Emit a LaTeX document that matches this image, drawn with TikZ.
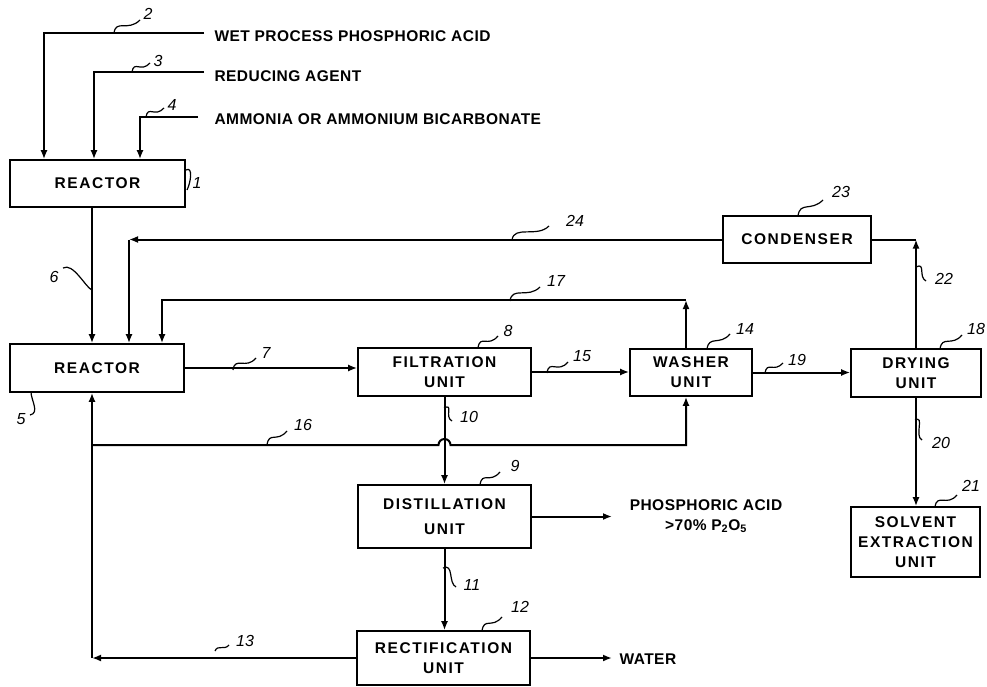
\documentclass[tikz,border=0pt]{standalone}
\usepackage{fontspec}
\setmainfont{Liberation Sans}
\newfontfamily\boxfont[LetterSpace=10.0]{Liberation Sans}
\newfontfamily\feedfont[LetterSpace=3.0]{Liberation Sans}
\usetikzlibrary{arrows.meta}

\begin{document}
\begin{tikzpicture}[x=1pt, y=-1pt, every node/.style={font=\boxfont\bfseries\fontsize{15.5}{20}\selectfont}]
  \tikzstyle{unit}=[draw,line width=1.6pt,align=center,inner sep=0pt]
  \tikzstyle{feed}=[font=\feedfont\bfseries\fontsize{15.5}{20}\selectfont]
  \tikzstyle{pipe}=[line width=2pt]
  \tikzstyle{arr}=[pipe,-{Latex[length=9pt,width=7pt]}]
  \tikzstyle{lead}=[line width=1.2pt]
  \tikzstyle{num}=[font=\normalfont\itshape\fontsize{16}{16}\selectfont,inner sep=0pt]
  \useasboundingbox (0,0) rectangle (987,687);
  % units
  \node[unit,minimum width=175,minimum height=47] (react1) at (97.5,183.5) {REACTOR};
  \node[unit,minimum width=174,minimum height=48] (react5) at (97,368) {REACTOR};
  \node[unit,minimum width=173,minimum height=48] (filt) at (444.5,372) {FILTRATION\\UNIT};
  \node[unit,minimum width=122,minimum height=47] (wash) at (691,372.5) {WASHER\\UNIT};
  \node[unit,minimum width=130,minimum height=48] (dry) at (916,373) {DRYING\\UNIT};
  \node[unit,minimum width=148,minimum height=47] (cond) at (797,239.5) {CONDENSER};
  \node[unit,minimum width=173,minimum height=63] (dist) at (444.5,516.5) {DISTILLATION\\[5pt]UNIT};
  \node[unit,minimum width=173,minimum height=54] (rectif) at (443.5,658) {RECTIFICATION\\UNIT};
  \node[unit,minimum width=129,minimum height=70] (solv) at (915.5,542) {SOLVENT\\EXTRACTION\\UNIT};
  % feeds and products
  \node[feed,anchor=west] (acidin) at (211,36) {WET PROCESS PHOSPHORIC ACID};
  \node[feed,anchor=west] (redin) at (211,76) {REDUCING AGENT};
  \node[feed,anchor=west] (ammin) at (211,119) {AMMONIA OR AMMONIUM BICARBONATE};
  \node[feed,align=center] (acidout) at (706,516) {PHOSPHORIC ACID\\>70\% P\textsubscript{2}O\textsubscript{5}};
  \node[feed,anchor=west] (water) at (616,659) {WATER};
  \coordinate (in2) at (204,33);
  \coordinate (in3) at (204,72);
  \coordinate (in4) at (198,117);
  \coordinate (c2) at (44,0);
  \coordinate (c3) at (94,0);
  \coordinate (c4) at (140,0);
  \coordinate (c6) at (92,0);
  \coordinate (c24) at (129,0);
  \coordinate (k17) at (162,300);
  \coordinate (c14) at (686,0);
  \coordinate (k13) at (92,658);
  \coordinate (j16) at (92,445);
  \coordinate (pout) at (612,0);
  % streams
  \draw[arr] (in2) -| (react1.north -| c2);
  \draw[arr] (in3) -| (react1.north -| c3);
  \draw[arr] (in4) -| (react1.north -| c4);
  \draw[arr] (react1.south -| c6) -- (react5.north -| c6);
  \draw[arr] (react5.east) -- (react5.east -| filt.west);
  \draw[arr] (filt.east) -- (filt.east -| wash.west);
  \draw[arr] (wash.east) -- (wash.east -| dry.west);
  \draw[arr] (filt.south) -- (dist.north);
  \draw[arr] (dist.south) -- (rectif.north -| dist.south);
  \draw[arr] (dist.east) -- (dist.east -| pout);
  \draw[arr] (rectif.east) -- (rectif.east -| pout);
  \draw[arr] (dry.south) -- (solv.north -| dry.south);
  \draw[arr] (dry.north) -- (dry.north |- cond.east);
  \draw[pipe] (dry.north |- cond.east) -- (cond.east);
  \draw[arr] (cond.west) -- (cond.west -| c24);
  \draw[arr] (cond.west -| c24) -- (react5.north -| c24);
  \draw[arr] (wash.north -| c14) -- (k17 -| c14);
  \draw[arr] (k17 -| c14) -- (k17) -- (react5.north -| k17);
  \draw[arr] (rectif.west) -- (k13);
  \draw[arr] (k13) -- (react5.south -| k13);
  \draw[arr] (j16) -- ([xshift=-6pt]j16 -| filt.south) arc[start angle=180,end angle=360,radius=6] -- (j16 -| c14) -- (wash.south -| c14);
  % reference numerals
  \draw[lead] (186,170) .. controls +(7,-4) and +(4,-8) .. (187,190);
  \node[num] (n1) at (197,183) {1};
  \draw[lead] (114,33) .. controls +(2,-14) and +(-12,12) .. (140,20);
  \node[num] (n2) at (148,14) {2};
  \draw[lead] (132,72) .. controls +(2,-12) and +(-9,10) .. (150,63);
  \node[num] (n3) at (158,61) {3};
  \draw[lead] (146,117) .. controls +(2,-12) and +(-9,10) .. (164,108);
  \node[num] (n4) at (172,105) {4};
  \draw[lead] (31,392) .. controls +(0,8) and +(10,-2) .. (30,415);
  \node[num] (n5) at (21,419) {5};
  \draw[lead] (63,268) .. controls +(10,-6) and +(-6,-2) .. (92,290);
  \node[num] (n6) at (54,277) {6};
  \draw[lead] (233,370) .. controls +(2,-14) and +(-10,12) .. (256,358);
  \node[num] (n7) at (266,353) {7};
  \draw[lead] (478,348) .. controls +(2,-14) and +(-10,12) .. (498,336);
  \node[num] (n8) at (508,331) {8};
  \draw[lead] (480,485) .. controls +(2,-14) and +(-10,12) .. (500,472);
  \node[num] (n9) at (515,466) {9};
  \draw[lead] (444,408) .. controls +(10,-5) and +(-8,-4) .. (452,421);
  \node[num] (n10) at (469,417) {10};
  \draw[lead] (443,568) .. controls +(11,-5) and +(-8,-4) .. (456,587);
  \node[num] (n11) at (472,585) {11};
  \draw[lead] (482,631) .. controls +(2,-14) and +(-10,12) .. (502,617);
  \node[num] (n12) at (520,607) {12};
  \draw[lead] (215,651) .. controls +(3,-7) and +(-5,6) .. (229,645);
  \node[num] (n13) at (245,641) {13};
  \draw[lead] (707,349) .. controls +(2,-14) and +(-10,12) .. (730,334);
  \node[num] (n14) at (745,329) {14};
  \draw[lead] (547,373) .. controls +(2,-14) and +(-10,12) .. (568,362);
  \node[num] (n15) at (582,356) {15};
  \draw[lead] (267,445) .. controls +(2,-14) and +(-10,12) .. (287,431);
  \node[num] (n16) at (303,425) {16};
  \draw[lead] (510,301) .. controls +(2,-15) and +(-12,12) .. (540,287);
  \node[num] (n17) at (556,281) {17};
  \draw[lead] (940,349) .. controls +(2,-14) and +(-10,12) .. (962,335);
  \node[num] (n18) at (976,329) {18};
  \draw[lead] (765,373) .. controls +(2,-12) and +(-9,10) .. (783,363);
  \node[num] (n19) at (797,360) {19};
  \draw[lead] (915,420) .. controls +(10,-5) and +(-8,-4) .. (922,440);
  \node[num] (n20) at (941,443) {20};
  \draw[lead] (935,507) .. controls +(2,-14) and +(-10,12) .. (957,495);
  \node[num] (n21) at (971,486) {21};
  \draw[lead] (916,267) .. controls +(10,-5) and +(-8,-4) .. (926,281);
  \node[num] (n22) at (944,279) {22};
  \draw[lead] (798,216) .. controls +(2,-15) and +(-12,12) .. (823,200);
  \node[num] (n23) at (841,192) {23};
  \draw[lead] (512,240) .. controls +(2,-15) and +(-12,12) .. (549,226);
  \node[num] (n24) at (575,221) {24};
\end{tikzpicture}
\end{document}
